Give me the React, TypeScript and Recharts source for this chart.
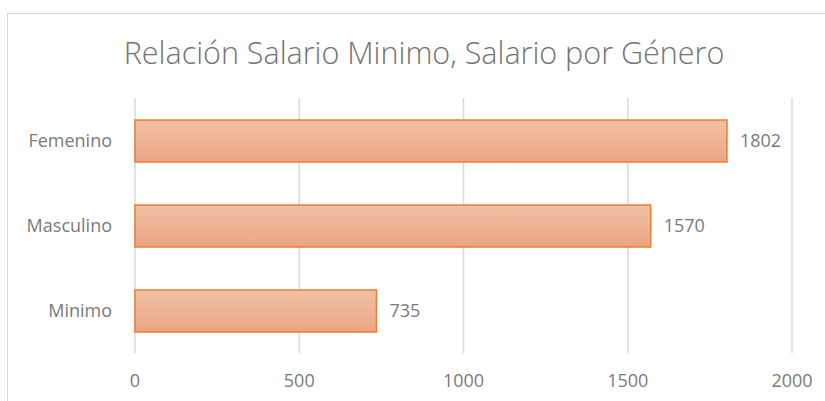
import React from "react";
import { BarChart, Bar, XAxis, YAxis, CartesianGrid, LabelList } from "recharts";

const categories = ["Femenino", "Masculino", "Minimo"];
const values = [1802, 1570, 735];
const xTicks = [0, 500, 1000, 1500, 2000];
const title = "Relación Salario Minimo, Salario por Género";

const data = categories.map((c, i) => ({ name: c, amount: values[i] }));

const FONT = "'Open Sans', Lato, sans-serif";
const TEXT = "#7A7A7A";

export default function App() {
  return (
    <div style={{ position: "absolute", left: 0, top: 0, width: 825, height: 401, background: "#fff", overflow: "hidden", fontFamily: FONT }}>
      <div style={{ position: "absolute", left: 7, top: 13, width: 840, height: 420, border: "1.5px solid #D9D9D9", boxSizing: "border-box" }} />
      <div style={{ position: "absolute", left: 0, top: 31, width: 848, textAlign: "center", fontSize: 30.5, fontWeight: 300, color: "#737373", whiteSpace: "nowrap" }}>
        {title}
      </div>
      <div style={{ position: "absolute", left: 0, top: 0 }}>
        <BarChart
          width={825}
          height={401}
          data={data}
          layout="vertical"
          margin={{ top: 98, right: 33, bottom: 0, left: 0 }}
          barSize={42}
        >
          <defs>
            <linearGradient id="barGrad" x1="0" y1="0" x2="0" y2="1">
              <stop offset="0%" stopColor="#F1C0A5" />
              <stop offset="100%" stopColor="#EBA683" />
            </linearGradient>
          </defs>
          <CartesianGrid horizontal={false} stroke="#D9D9D9" strokeWidth={1.5} />
          <XAxis
            type="number"
            domain={[0, 2000]}
            ticks={xTicks}
            axisLine={false}
            tickLine={false}
            tickMargin={15}
            height={48}
            tick={{ fill: TEXT, fontSize: 18, fontFamily: FONT }}
          />
          <YAxis
            type="category"
            dataKey="name"
            width={135}
            axisLine={false}
            tickLine={false}
            tickMargin={17}
            tick={{ fill: TEXT, fontSize: 18, fontFamily: FONT }}
          />
          <Bar dataKey="amount" fill="url(#barGrad)" stroke="#ED7D31" strokeWidth={1.5} isAnimationActive={false}>
            <LabelList dataKey="amount" position="right" offset={13} fill={TEXT} fontSize={18} fontFamily={FONT} />
          </Bar>
        </BarChart>
      </div>
    </div>
  );
}
